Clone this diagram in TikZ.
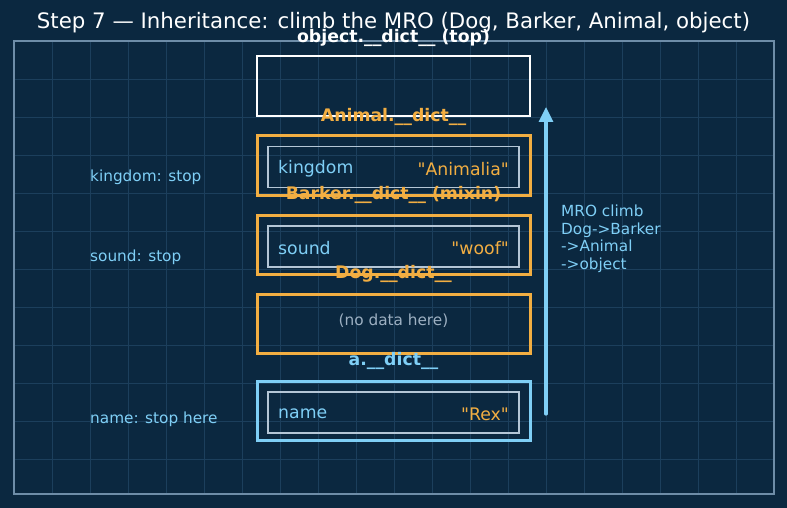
\documentclass[tikz,border=0pt]{standalone}
\usepackage{fontspec}
\newfontfamily\dv{DejaVu Sans}
\usetikzlibrary{arrows.meta}
\definecolor{bg}{HTML}{0B2840}
\definecolor{gridc}{HTML}{1C3F5C}
\definecolor{framec}{HTML}{6E8DA8}
\definecolor{orangec}{HTML}{F2AE42}
\definecolor{bluec}{HTML}{7FCFF6}
\definecolor{innerc}{HTML}{B4C6D6}
\definecolor{grayc}{HTML}{9DB0C2}
\tikzset{
  outerbox/.style={draw, line width=3pt, minimum width=273pt, inner sep=0pt},
  innerbox/.style={draw=innerc, line width=1.5pt, minimum width=251pt, minimum height=41pt, inner sep=0pt},
  boxlabel/.style={font=\dv\fontsize{17.3}{20}\selectfont\bfseries, inner sep=0pt},
  keytxt/.style={font=\dv\fontsize{17.3}{20}\selectfont, text=bluec, anchor=west, inner sep=0pt},
  valtxt/.style={font=\dv\fontsize{17.3}{20}\selectfont, text=orangec, anchor=east, inner sep=0pt},
  note/.style={font=\dv\fontsize{15.3}{17.4}\selectfont, text=bluec, anchor=west, inner sep=0pt},
}
\begin{document}
\begin{tikzpicture}[x=1pt,y=-1pt]
\fill[bg] (0,0) rectangle (787,508);
\useasboundingbox (0,0) rectangle (787,508);
% grid
\foreach \gx in {52,90,...,736} \draw[gridc, line width=0.8pt] (\gx,41) -- (\gx,494);
\foreach \gy in {79,117,...,459} \draw[gridc, line width=0.8pt] (14,\gy) -- (774,\gy);
\draw[framec, line width=1.6pt] (14,41) rectangle (774,494);
% title
\node[font=\dv\fontsize{21.3}{24}\selectfont, text=white, inner sep=0pt] (title) at (393.5,23) {Step 7 — Inheritance: climb the MRO (Dog, Barker, Animal, object)};
% boxes
\node[outerbox, draw=white, line width=2.6pt, minimum height=60pt] (objbox) at (393.5,86) {};
\node[outerbox, draw=orangec, minimum height=59pt] (animalbox) at (393.5,165.5) {};
\node[outerbox, draw=orangec, minimum height=59pt] (barkerbox) at (393.5,244.5) {};
\node[outerbox, draw=orangec, minimum height=59pt] (dogbox) at (393.5,323.5) {};
\node[outerbox, draw=bluec, minimum height=59pt] (abox) at (393.5,410.5) {};
\node[innerbox] (animalin) at (393.5,167) {};
\node[innerbox] (barkerin) at (393.5,246.5) {};
\node[innerbox] (ain) at (393.5,412.5) {};
% labels
\node[boxlabel, text=white] (objlbl) at (393.5,38) {object.\_\_dict\_\_ (top)};
\node[boxlabel, text=orangec] (animallbl) at (393.5,117) {Animal.\_\_dict\_\_};
\node[boxlabel, text=orangec] (barkerlbl) at (393.5,195) {Barker.\_\_dict\_\_ (mixin)};
\node[boxlabel, text=orangec] (doglbl) at (393.5,274) {Dog.\_\_dict\_\_};
\node[boxlabel, text=bluec] (albl) at (393.5,361) {a.\_\_dict\_\_};
% entries
\node[keytxt] (k1) at (278,169) {kingdom};
\node[valtxt] (v1) at (509,169) {"Animalia"};
\node[keytxt] (k2) at (278,248.5) {sound};
\node[valtxt] (v2) at (509,248.5) {"woof"};
\node[keytxt] (k3) at (278,414) {name};
\node[valtxt] (v3) at (509,414) {"Rex"};
\node[font=\dv\fontsize{15.3}{17.4}\selectfont, text=grayc, inner sep=0pt] (nodata) at (393.5,321) {(no data here)};
% notes
\node[note] (n1) at (90,177) {kingdom: stop};
\node[note] (n2) at (90,257) {sound: stop};
\node[note] (n3) at (90,419) {name: stop here};
% arrow
\coordinate (arrbot) at (546,414);
\coordinate (arrtop) at (546,107);
\draw[bluec, line width=3.2pt, line cap=round, -{Triangle[length=15pt,width=14pt]}] (arrbot) -- (arrtop);
\node[note, anchor=north west, align=left] (mro) at (561,205) {MRO climb\\Dog->Barker\\->Animal\\->object};
\end{tikzpicture}
\end{document}
